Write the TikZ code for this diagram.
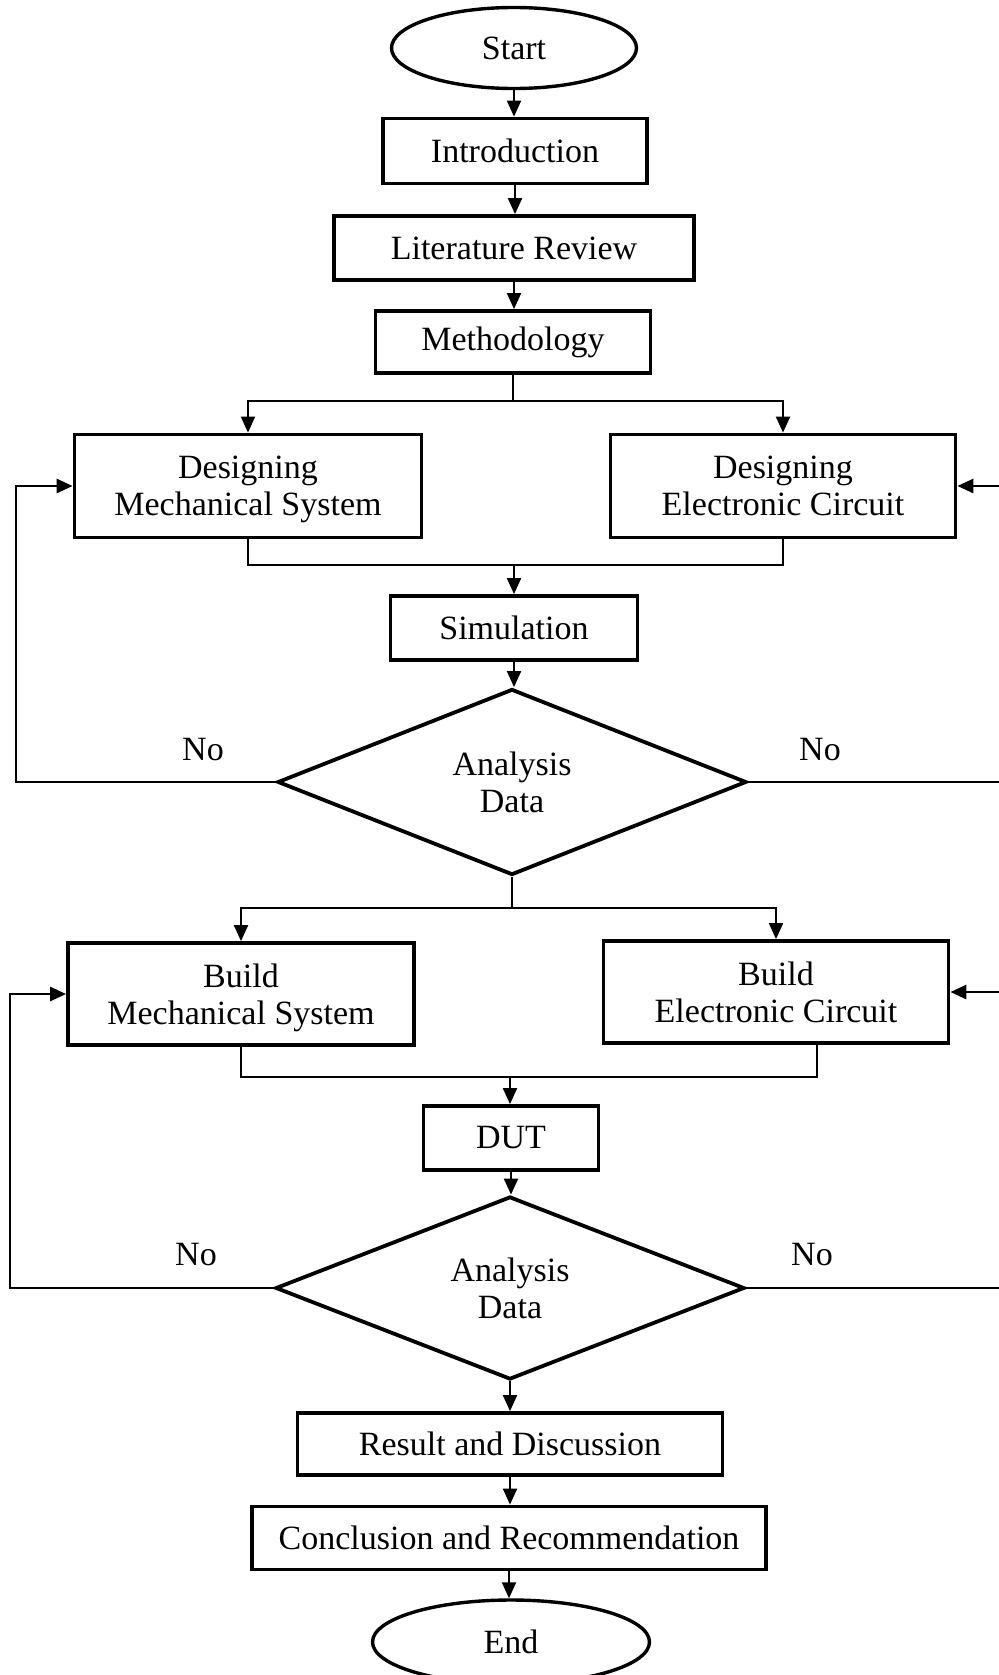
\documentclass[tikz,border=0pt]{standalone}
\usepackage{fontspec}
\setmainfont{Liberation Serif}
\usetikzlibrary{shapes.geometric,arrows.meta}

\tikzset{
  lbl/.style={font=\fontsize{17}{18.5}\selectfont, align=center},
  box/.style={lbl, draw, line width=1.9pt, inner sep=0pt, minimum height=32pt},
  oval/.style={lbl, draw, ellipse, line width=1.7pt, inner sep=0pt},
  decide/.style={lbl, draw, diamond, line width=1.9pt, inner sep=0pt, minimum width=234.5pt},
  link/.style={line width=1pt},
  loop/.style={line width=1.4pt},
  tip/.style={-{Triangle[length=8pt,width=7pt]}},
}

\begin{document}
\begin{tikzpicture}[x=0.5pt,y=-0.5pt]
\useasboundingbox (0,0) rectangle (999,1675);

% main column
\node[oval, minimum width=122.5pt, minimum height=40.5pt] (start) at (514,48) {Start};
\node[box, minimum width=132pt, minimum height=32.5pt] (intro) at (515,151) {Introduction};
\node[box, minimum width=180pt] (lit) at (514,248) {Literature Review};
\node[box, minimum width=137.5pt, minimum height=31pt] (meth) at (513,342) {Methodology};

% two-line boxes: descenders of the last line are smashed so all blocks sit alike
\node[box, minimum width=173.5pt, minimum height=51.5pt] (dmech) at (248,486) {Designing\\\smash{Mechanical System}};
\node[box, minimum width=172.5pt, minimum height=51.5pt] (delec) at (783,486) {Designing\\Electronic Circuit};

\node[box, minimum width=123.5pt] (sim) at (514,628) {Simulation};
\node[decide, minimum height=93pt] (dec1) at (512,782) {Analysis\\Data};

\node[box, minimum width=173pt, minimum height=51pt] (bmech) at (241,994) {Build\\\smash{Mechanical System}};
\node[box, minimum width=172.5pt, minimum height=51pt] (belec) at (776,992) {Build\\Electronic Circuit};

\node[box, minimum width=87.5pt] (dut) at (511,1138) {DUT};
\node[decide, minimum height=91.5pt] (dec2) at (510,1288) {Analysis\\Data};

\node[box, minimum width=212.5pt, minimum height=31pt] (res) at (510,1444) {Result and Discussion};
\node[box, minimum width=257pt, minimum height=31.5pt] (conc) at (509,1538) {Conclusion and Recommendation};
\node[oval, minimum width=138.5pt, minimum height=42pt] (end) at (511,1642) {End};

% "No" labels
\node[lbl] (no1l) at (203,750) {No};
\node[lbl] (no1r) at (820,750) {No};
\node[lbl] (no2l) at (196,1255) {No};
\node[lbl] (no2r) at (812,1255) {No};

% junction points
\coordinate (s1) at (513,401);
\coordinate (m1) at (514,565);
\coordinate (s2) at (512,908);
\coordinate (m2) at (510,1077);
\coordinate (m2r) at (817,1077);
\coordinate (lx1) at (16,782);
\coordinate (lx2) at (10,1288);
\coordinate (rx1) at (999,782);
\coordinate (rx2) at (999,1288);

% straight flow
\draw[link,tip] (start.south) -- (start.south |- intro.north);
\draw[link,tip] (intro.south) -- (intro.south |- lit.north);
\draw[link,tip] (lit.south) -- (lit.south |- meth.north);

% first split and merge
\draw[link] (meth.south) -- (meth.south |- s1);
\draw[link,tip] (s1) -| (dmech.north);
\draw[link,tip] (s1) -| (delec.north);
\draw[link] (dmech.south) |- (m1) -| (delec.south);
\draw[link,tip] (m1) -- (m1 |- sim.north);
\draw[link,tip] (sim.south) -- (sim.south |- dec1.north);

% first feedback loops
\draw[loop,tip] (dec1.west) -- (lx1) |- (dmech.west);
\draw[loop] (dec1.east) -- (rx1);
\draw[loop,tip] (delec.east -| rx1) -- (delec.east);

% second split and merge
\draw[link] (dec1.south) -- (dec1.south |- s2);
\draw[link,tip] (s2) -| (bmech.north);
\draw[link,tip] (s2) -| (belec.north);
\draw[link] (bmech.south) |- (m2r) -- (m2r |- belec.south);
\draw[link,tip] (m2) -- (m2 |- dut.north);
\draw[link,tip] (dut.south) -- (dut.south |- dec2.north);

% second feedback loops
\draw[loop,tip] (dec2.west) -- (lx2) |- (bmech.west);
\draw[loop] (dec2.east) -- (rx2);
\draw[loop,tip] (belec.east -| rx2) -- (belec.east);

% closing steps
\draw[link,tip] (dec2.south) -- (dec2.south |- res.north);
\draw[link,tip] (res.south) -- (res.south |- conc.north);
\draw[link,tip] (conc.south) -- (conc.south |- end.north);
\end{tikzpicture}
\end{document}
